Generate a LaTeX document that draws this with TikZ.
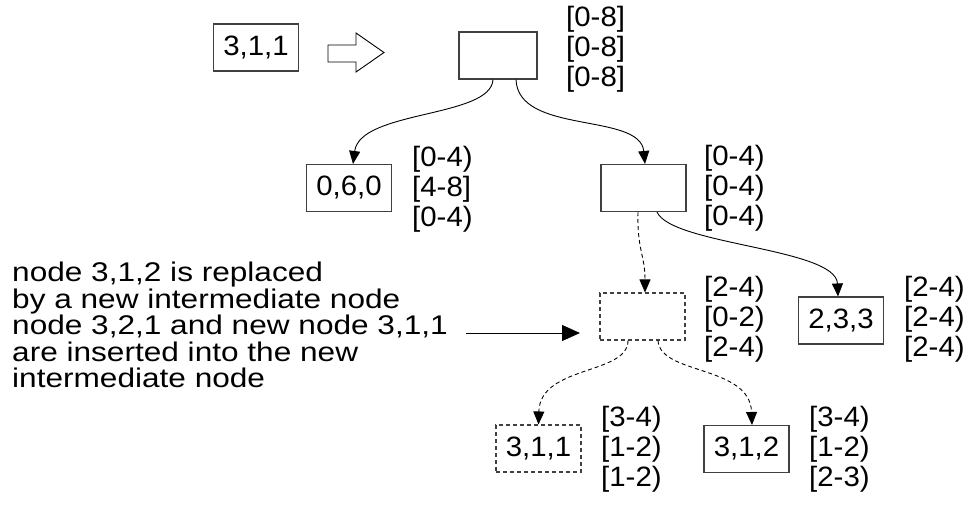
\documentclass[tikz,border=0pt]{standalone}
\usepackage{fontspec}
\setmainfont{Liberation Sans}
\newfontfamily\lblfont[FakeStretch=1.05]{Liberation Sans}
\newfontfamily\widefont[FakeStretch=1.17]{Liberation Sans}
\usetikzlibrary{arrows.meta}
\begin{document}
\begin{tikzpicture}[x=1pt,y=-1pt,
  box/.style={draw=black!75,line width=1.1pt,minimum width=85pt,minimum height=47pt,inner sep=0pt,font=\lblfont\fontsize{28}{30}\selectfont},
  dbox/.style={box,dash pattern=on 4pt off 3pt},
  lbl/.style={anchor=west,align=left,inner sep=0pt,font=\lblfont\fontsize{28}{30}\selectfont},
  conn/.style={line width=0.9pt,-{Triangle[length=13pt,width=11pt]}},
  dconn/.style={conn,dash pattern=on 4pt off 3pt}]
\useasboundingbox (0,0) rectangle (970,504);
% nodes
\node[box] (A) at (256,47.5) {3,1,1};
\node[box,minimum width=78pt] (R) at (498,55.5) {};
\node[box] (B) at (349,188) {0,6,0};
\node[box] (C) at (643.5,188) {};
\node[dbox] (D) at (642.5,316.5) {};
\node[box] (E) at (841,320.5) {2,3,3};
\node[dbox] (F) at (538.5,448.5) {3,1,1};
\node[box] (G) at (746.5,449) {3,1,2};
% labels
\node[lbl] (lR) at (566,49) {{[}0-8]\\{[}0-8]\\{[}0-8]};
\node[lbl] (lB) at (412,189) {{[}0-4)\\{[}4-8]\\{[}0-4)};
\node[lbl] (lC) at (704,188) {{[}0-4)\\{[}0-4)\\{[}0-4)};
\node[lbl] (lD) at (704,319) {{[}2-4)\\{[}0-2)\\{[}2-4)};
\node[lbl] (lE) at (904,319) {{[}2-4)\\{[}2-4)\\{[}2-4)};
\node[lbl] (lF) at (601,449) {{[}3-4)\\{[}1-2)\\{[}1-2)};
\node[lbl] (lG) at (809,449) {{[}3-4)\\{[}1-2)\\{[}2-3)};
% left text
\node[anchor=north west,align=left,inner sep=0pt,font=\widefont\fontsize{27}{26.5}\selectfont] (T) at (12,262)
 {node 3,1,2 is replaced\\by a new intermediate node\\node 3,2,1 and new node 3,1,1\\are inserted into the new\\intermediate node};
% hollow arrow
\draw[line width=0.9pt] (328,45) -- (356,45) -- (356,33) -- (384,52.5) -- (356,72) -- (356,62) -- (328,62) -- cycle;
% connectors
\draw[conn] ([xshift=-5pt]R.south) .. controls (491,118) and (360,110) .. ([xshift=4pt]B.north);
\draw[conn] ([xshift=18pt]R.south) .. controls (518,135) and (640,112) .. ([xshift=1.5pt]C.north);
\draw[dconn] ([xshift=-5.5pt]C.south) .. controls (637,250) and (645,255) .. ([xshift=2.5pt]D.north);
\draw[conn] ([xshift=13.5pt]C.south) .. controls (672,245) and (836,248) .. ([xshift=-3pt]E.north);
\draw[dconn] ([xshift=-14.5pt]D.south) .. controls (628,375) and (540,365) .. (F.north);
\draw[dconn] ([xshift=15.5pt]D.south) .. controls (660,375) and (750,365) .. ([xshift=5.5pt]G.north);
\coordinate (aout) at (466,333);
\coordinate (ain) at (580,333);
\draw[line width=0.9pt,-{Triangle[length=18pt,width=16pt]}] (aout) -- (ain);
\end{tikzpicture}
\end{document}
